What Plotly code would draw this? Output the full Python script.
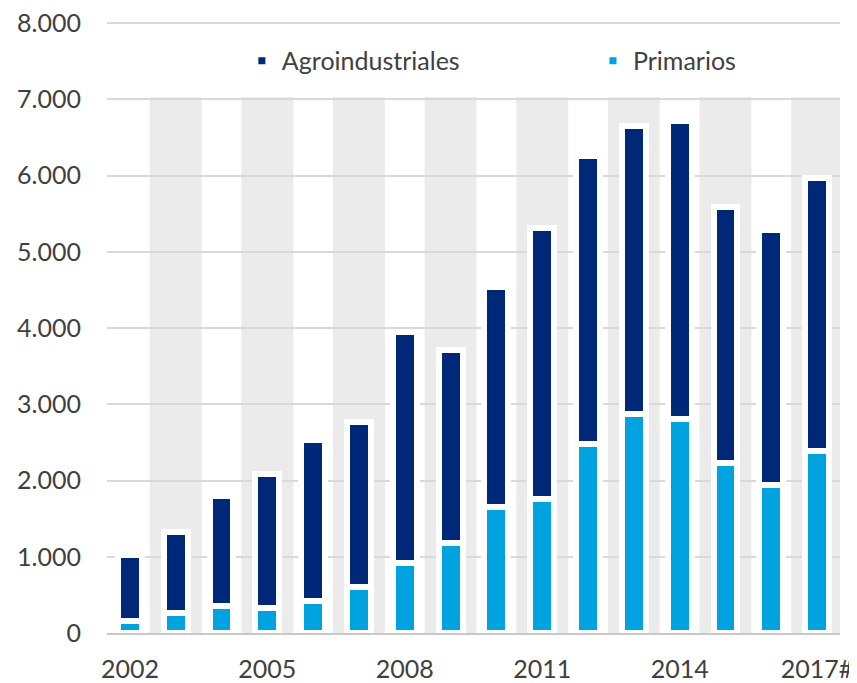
import plotly.graph_objects as go

years = list(range(2002, 2018))
primarios = [152, 256, 356, 332, 420, 607, 915, 1180, 1652, 1764, 2479, 2874, 2804, 2230, 1941, 2393]
agroindustriales = [871, 1069, 1435, 1757, 2106, 2155, 3033, 2526, 2890, 3547, 3772, 3779, 3911, 3352, 3352, 3574]

tick_years = [2002, 2005, 2008, 2011, 2014, 2017]
tick_labels = ["2002", "2005", "2008", "2011", "2014", "2017#"]
y_ticks = [0, 1000, 2000, 3000, 4000, 5000, 6000, 7000, 8000]
y_labels = ["0", "1.000", "2.000", "3.000", "4.000", "5.000", "6.000", "7.000", "8.000"]

band_years = [y for y in years if y % 2 == 1]
band_top = 7030
band_half = 0.567

dark = "#002878"
light = "#00A3DF"
txt = "#404040"

fig = go.Figure()
fig.add_trace(go.Bar(
    x=years, y=primarios, name="Primarios",
    marker=dict(color=light, line=dict(color="white", width=6)),
    width=0.52, legend="legend2",
))
fig.add_trace(go.Bar(
    x=years, y=agroindustriales, name="Agroindustriales",
    marker=dict(color=dark, line=dict(color="white", width=6)),
    width=0.52, legend="legend",
))

# grey background bands behind odd years
for yr in band_years:
    fig.add_shape(type="rect", xref="x", yref="y",
                  x0=yr - band_half, x1=yr + band_half, y0=0, y1=band_top,
                  fillcolor="#EBEBEB", line=dict(width=0), layer="below")

leg = dict(orientation="h", xanchor="left", y=0.9362, yanchor="middle",
           font=dict(family="Lato", size=25, color=txt),
           bgcolor="rgba(0,0,0,0)", itemclick=False, itemdoubleclick=False)

# page body has an 8px margin, so the figure is a bit smaller
fig.update_layout(
    width=849, height=675,
    barmode="stack",
    margin=dict(l=99, r=17, t=14, b=50),
    paper_bgcolor="white",
    plot_bgcolor="rgba(0,0,0,0)",
    font=dict(family="Lato", size=25, color=txt),
    showlegend=True,
    legend=dict(leg, x=0.184),
    legend2=dict(leg, x=0.663),
    xaxis=dict(
        range=[2001.5, 2017.5],
        tickvals=tick_years, ticktext=tick_labels,
        showgrid=False, zeroline=False,
        showline=True, linecolor="#C8C8C8", linewidth=2,
        ticks="", ticklabelstandoff=13, automargin=False,
        ticklabeloverflow="allow",
    ),
    yaxis=dict(
        range=[0, 8015],
        tickvals=y_ticks, ticktext=y_labels,
        showgrid=True, gridcolor="#D9D9D9", gridwidth=1.5,
        zeroline=False, showline=False,
        ticks="", ticklabelstandoff=25, automargin=False,
        ticklabeloverflow="allow",
    ),
)

fig.write_html("out.html")
